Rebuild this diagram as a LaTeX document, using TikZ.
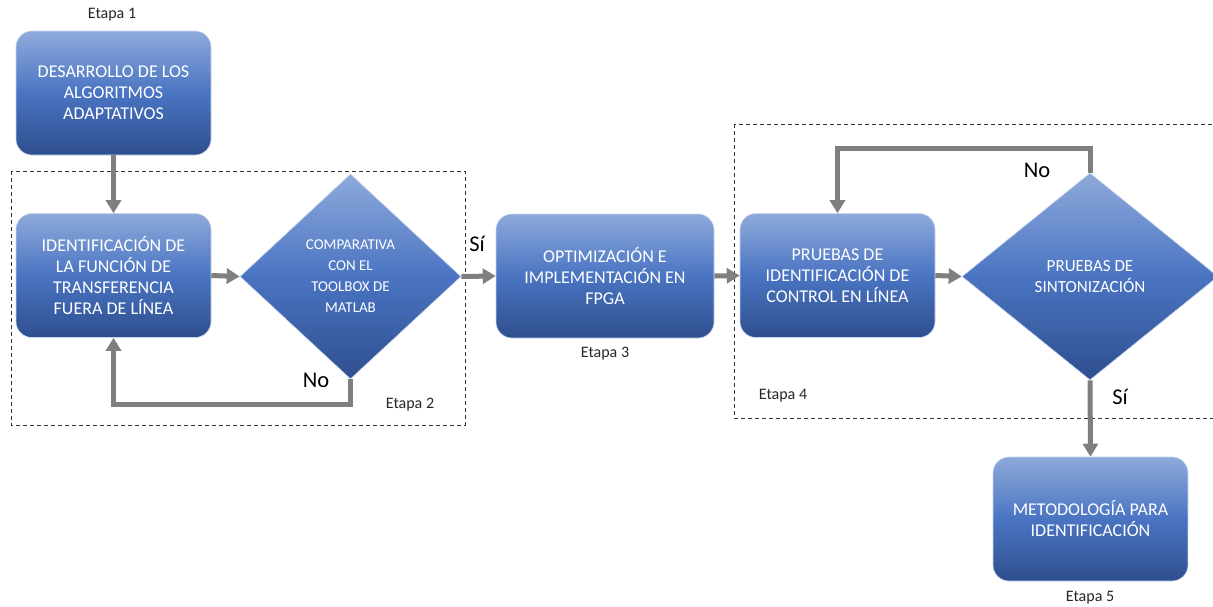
\documentclass[tikz,border=0pt]{standalone}
\usepackage{fontspec}
\setmainfont{Carlito}
\usetikzlibrary{shapes.geometric,arrows.meta}
\definecolor{blueTop}{HTML}{8EAADB}
\definecolor{blueMid}{HTML}{4A74C2}
\definecolor{blueBot}{HTML}{2E4F8E}
\definecolor{arrowgray}{HTML}{7F7F7F}
\tikzset{
  stepbox/.style={rectangle, rounded corners=16pt, minimum width=195pt, minimum height=124pt,
    inner sep=0pt, top color=blueTop, bottom color=blueBot, middle color=blueMid,
    draw=blueTop!50!white, line width=0.6pt, text=white, align=center,
    font=\fontsize{18}{21}\selectfont},
  decision/.style={diamond, inner sep=0pt, top color=blueTop, bottom color=blueBot,
    middle color=blueMid, draw=blueTop!50!white, line width=0.6pt, text=white, align=center},
  flow/.style={draw=arrowgray, line width=5pt, -{Triangle[width=15pt,length=13pt]}},
  stagebox/.style={draw=black!80, line width=0.8pt, dash pattern=on 4pt off 3pt},
  stagelabel/.style={font=\fontsize{16}{18}\selectfont, text=black!85},
  answer/.style={font=\fontsize{22.5}{24}\selectfont, text=black}
}
\begin{document}
\begin{tikzpicture}[x=1pt,y=-1pt]
\useasboundingbox (0,0) rectangle (1213,606);
\clip (0,0) rectangle (1213,606);

% dashed stage frames
\draw[stagebox] (11,171) rectangle (465,425);
\draw[stagebox] (734,124) rectangle (1225,418);

% process blocks
\node[stepbox] (b1) at (113.5,93) {DESARROLLO DE LOS\\ALGORITMOS\\ADAPTATIVOS};
\node[stepbox] (b2) at (113.5,275.5) {IDENTIFICACIÓN DE\\LA FUNCIÓN DE\\TRANSFERENCIA\\FUERA DE LÍNEA};
\node[stepbox, minimum width=218pt] (b3) at (605,276) {OPTIMIZACIÓN E\\IMPLEMENTACIÓN EN\\FPGA};
\node[stepbox] (b4) at (837.5,275.5) {PRUEBAS DE\\IDENTIFICACIÓN DE\\CONTROL EN LÍNEA};
\node[stepbox] (b5) at (1090.5,519) {METODOLOGÍA PARA\\IDENTIFICACIÓN};

% decisions
\node[decision, minimum width=221pt, minimum height=205pt,
      font=\fontsize{15}{21}\selectfont] (d1) at (350.5,276.5)
      {COMPARATIVA\\CON EL\\TOOLBOX DE\\MATLAB};
\node[decision, minimum width=256pt, minimum height=207pt,
      font=\fontsize{17}{20.5}\selectfont] (d2) at (1090,276.5)
      {PRUEBAS DE\\SINTONIZACIÓN};

% stage labels
\node[stagelabel] (e1) at (112,15) {Etapa 1};
\node[stagelabel] (e2) at (410,405) {Etapa 2};
\node[stagelabel] (e3) at (605,354) {Etapa 3};
\node[stagelabel] (e4) at (783,396) {Etapa 4};
\node[stagelabel] (e5) at (1090,598) {Etapa 5};

% connectors
\draw[flow] (b1.south) -- (b2.north);
\draw[flow] (b2.east) -- (d1.west);
\draw[flow] (d1.south) -- ++(0,25) -| (b2.south);
\draw[flow] (d1.east) -- (b3.west);
\draw[flow] (b3.east) -- (b4.west);
\draw[flow] (b4.east) -- (d2.west);
\draw[flow] (d2.north) -- ++(0,-24) -| (b4.north);
\draw[flow] (d2.south) -- (b5.north);

% branch answers
\node[answer] (no1) at (316,380) {No};
\node[answer] (si1) at (477,244) {Sí};
\node[answer] (no2) at (1037,170) {No};
\node[answer] (si2) at (1120,397) {Sí};
\end{tikzpicture}
\end{document}
